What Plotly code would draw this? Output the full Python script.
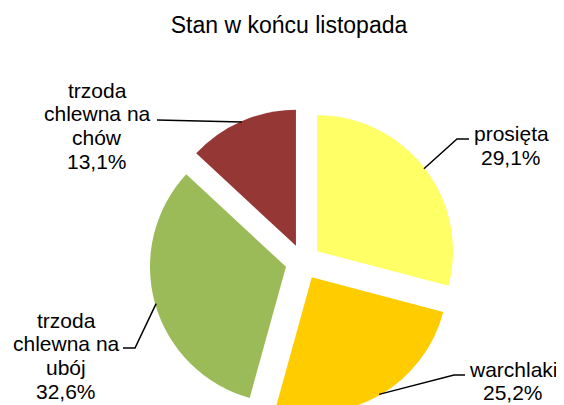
import math
import plotly.graph_objects as go

# ---- data ----
categories = ["prosięta", "warchlaki", "trzoda chlewna na ubój", "trzoda chlewna na chów"]
label_lines = [["prosięta", "29,1%"], ["warchlaki", "25,2%"],
               ["trzoda", "chlewna na", "ubój", "32,6%"],
               ["trzoda", "chlewna na", "chów", "13,1%"]]
values = [29.1, 25.2, 32.6, 13.1]
colors = ["#FFFF66", "#FFCC00", "#9BBB59", "#953735"]

# the page body has an 8px margin: figure pixel = screen pixel - 8
OFF = 8
W, H = 564, 412
PULL = 0.13
FONT = "Liberation Sans, Arial, sans-serif"
LABEL_SIZE = 21

def px(sx, sy):
    """screen pixel -> paper coords"""
    return (sx - OFF) / W, 1 - (sy - OFF) / H

# pie geometry (screen pixels)
R = 136
cx, cy = 303, 262
half = R * (1 + PULL)
x0, y1 = px(cx - half, cy - half)
x1, y0 = px(cx + half, cy + half)
dom_x = [x0, x1]
dom_y = [max(0.0, y0), y1]

# label placement (screen pixels): centre x, first-line centre y, line step
label_x = [511, 513, 66, 97]
label_y0 = [134, 369, 320, 90]
LINE_STEP = 23.8
elbows = [(457, 139), (454, 375), (135, 348), None]
ends = [(469, 139), (465, 375), (123, 348), (157, 120)]

fig = go.Figure()
fig.add_trace(go.Pie(
    labels=categories, values=values, sort=False, direction="clockwise", rotation=0,
    pull=PULL, textinfo="none", marker=dict(colors=colors, line=dict(width=0)),
    domain=dict(x=dom_x, y=dom_y), showlegend=False, hoverinfo="label+percent",
))

total = sum(values)
cum = 0
shapes = []
annotations = []
for i, v in enumerate(values):
    mid = (cum + v / 2) / total * 360
    cum += v
    th = math.radians(mid)
    dist = R * (1 + PULL) - 1
    ax_, ay_ = cx + dist * math.sin(th), cy - dist * math.cos(th)
    pts = [(ax_, ay_)]
    if elbows[i]:
        pts.append(elbows[i])
    pts.append(ends[i])
    path = "M " + " L ".join(f"{px(x, y)[0]:.5f},{px(x, y)[1]:.5f}" for x, y in pts)
    shapes.append(dict(type="path", path=path, xref="paper", yref="paper",
                       line=dict(color="black", width=1.5)))
    for k, line in enumerate(label_lines[i]):
        lx, ly = px(label_x[i], label_y0[i] + k * LINE_STEP)
        annotations.append(dict(x=lx, y=ly, xref="paper", yref="paper", text=line,
                                showarrow=False, xanchor="center", yanchor="middle",
                                font=dict(family=FONT, size=LABEL_SIZE, color="black")))

tx, ty = px(289, 25)
fig.update_layout(
    width=W, height=H,
    margin=dict(l=0, r=0, t=0, b=0),
    paper_bgcolor="white", plot_bgcolor="white",
    title=dict(text="Stan w końcu listopada", x=tx, xanchor="center",
               y=ty, yanchor="middle", yref="container",
               font=dict(family=FONT, size=23, color="black")),
    shapes=shapes, annotations=annotations,
)

fig.write_html("out.html")
